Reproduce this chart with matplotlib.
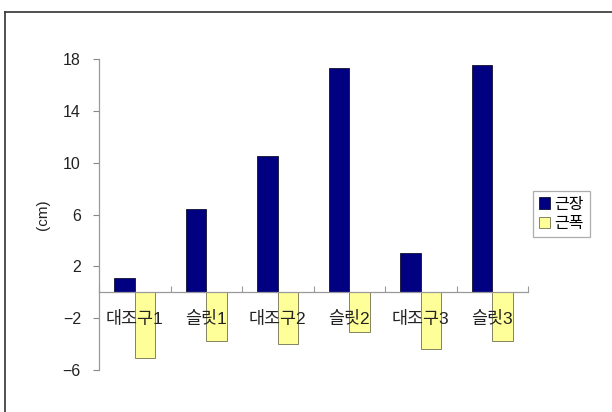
import numpy as np
import matplotlib
matplotlib.use('Agg')
from matplotlib import pyplot as plt
from matplotlib.lines import Line2D

plt.rcParams['font.family'] = ['Liberation Sans', 'Noto Sans CJK KR']

categories = ['대조구1', '슬릿1', '대조구2', '슬릿2', '대조구3', '슬릿3']
length = [1.1, 6.4, 10.5, 17.3, 3.0, 17.5]
width = [-5.1, -3.75, -4.0, -3.1, -4.35, -3.75]
series_names = ['근장', '근폭']
yticks = [-6, -2, 2, 6, 10, 14, 18]

fig = plt.figure(figsize=(6.12, 4.12), dpi=100)
ax = fig.add_axes([99 / 612, 1 - 370 / 412, 429 / 612, 311 / 412])

x = np.arange(len(categories))
bw = 0.285
ax.bar(x - bw / 2, length, bw, color='#000080', edgecolor='#101030', linewidth=0.6, label=series_names[0], zorder=2)
ax.bar(x + bw / 2, width, bw, color='#FFFF99', edgecolor='#707050', linewidth=0.6, label=series_names[1], zorder=2)

ax.set_xlim(-0.5, len(categories) - 0.5)
ax.set_ylim(-6, 18)
ax.set_yticks(yticks)
ax.tick_params(axis='y', direction='out', length=4, pad=9, labelsize=11.5, colors='#888888', labelcolor='#222222')

ax.spines['top'].set_visible(False)
ax.spines['right'].set_visible(False)
ax.spines['bottom'].set_position(('data', 0))
for s in ['left', 'bottom']:
    ax.spines[s].set_color('#999999')
    ax.spines[s].set_linewidth(0.9)

# ticks at category boundaries, labels as text on top of the bars
ax.set_xticks(np.arange(len(categories) + 1) - 0.5)
ax.set_xticklabels([])
ax.tick_params(axis='x', which='major', direction='in', length=4, colors='#999999')
for i, c in enumerate(categories):
    ax.annotate(c, (x[i], 0), xytext=(0, -19), textcoords='offset points',
                ha='center', va='center', fontsize=12.5, color='#222222', zorder=5)

ax.set_ylabel('(cm)', fontsize=11, color='#222222', labelpad=9)

leg = fig.legend(loc='upper left', bbox_to_anchor=(533 / 612, 1 - 191 / 412), frameon=True,
                 fancybox=False, edgecolor='#999999', fontsize=11.5, handlelength=0.7,
                 handleheight=0.7, handletextpad=0.3, borderpad=0.35, labelspacing=0.3,
                 borderaxespad=0)
leg.get_frame().set_linewidth(0.9)

# outer chart border
fig.add_artist(Line2D([5 / 612, 5 / 612], [0, 1 - 12 / 412], transform=fig.transFigure, color='#333333', lw=1.2))
fig.add_artist(Line2D([5 / 612, 1], [1 - 12 / 412, 1 - 12 / 412], transform=fig.transFigure, color='#333333', lw=1.2))

fig.savefig('out.png', dpi=100)
